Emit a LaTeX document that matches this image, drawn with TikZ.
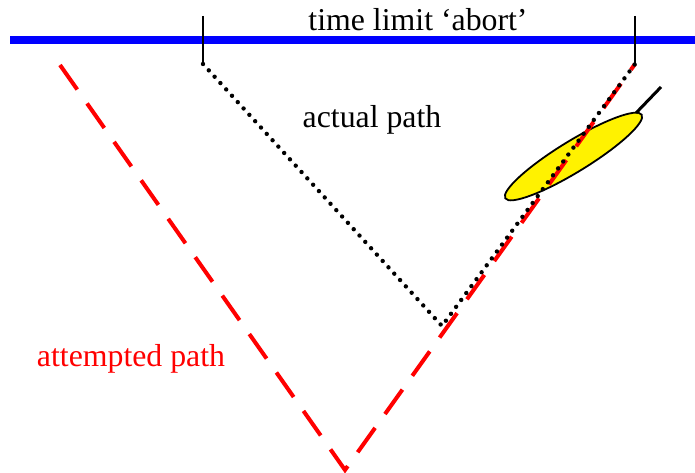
\documentclass[tikz,border=0pt]{standalone}
\usepackage{fontspec}
\setmainfont{Liberation Serif}
\begin{document}
\begin{tikzpicture}[x=1pt,y=-1pt,
  lbl/.style={anchor=base,inner sep=0pt,font=\fontsize{31.8}{36}\selectfont},
  attempted/.style={red,line width=4pt,dash pattern=on 30pt off 17pt},
  actual/.style={black,line width=4.4pt,line cap=round,dash pattern=on 0pt off 8.6pt},
  tick/.style={black,line width=2pt},
  limit/.style={blue,line width=8pt}]
\useasboundingbox (0,0) rectangle (695,473);
% coordinates
\coordinate (bl) at (10,40);
\coordinate (br) at (695,40);
\coordinate (tlTop) at (203,16);
\coordinate (tl) at (203,64);
\coordinate (trTop) at (635,16);
\coordinate (tr) at (635,64);
\coordinate (aStart) at (60,65);
\coordinate (aBottom) at (345,470);
\coordinate (pBottom) at (442,326);
\coordinate (stickA) at (636,113);
\coordinate (stickB) at (661,87);
% ellipse (object)
\draw[black,line width=1.8pt,fill=yellow,rotate around={31.5:(573.5,156.5)}] (573.5,156.5) ellipse [x radius=80, y radius=15.5];
\draw[black,line width=3pt] (stickA) -- (stickB);
% attempted path
\draw[attempted] (aStart) -- (aBottom) -- (tr);
% actual path
\draw[actual] (tl) -- (pBottom) -- (tr);
% time limit
\draw[limit] (bl) -- (br);
\draw[tick] (tlTop) -- (tl);
\draw[tick] (trTop) -- (tr);
% labels
\node[lbl] (tlabel) at (418,31) {time limit ‘abort’};
\node[lbl] (alabel) at (372,128) {actual path};
\node[lbl,text=red] (rlabel) at (131,366) {attempted path};
\end{tikzpicture}
\end{document}
